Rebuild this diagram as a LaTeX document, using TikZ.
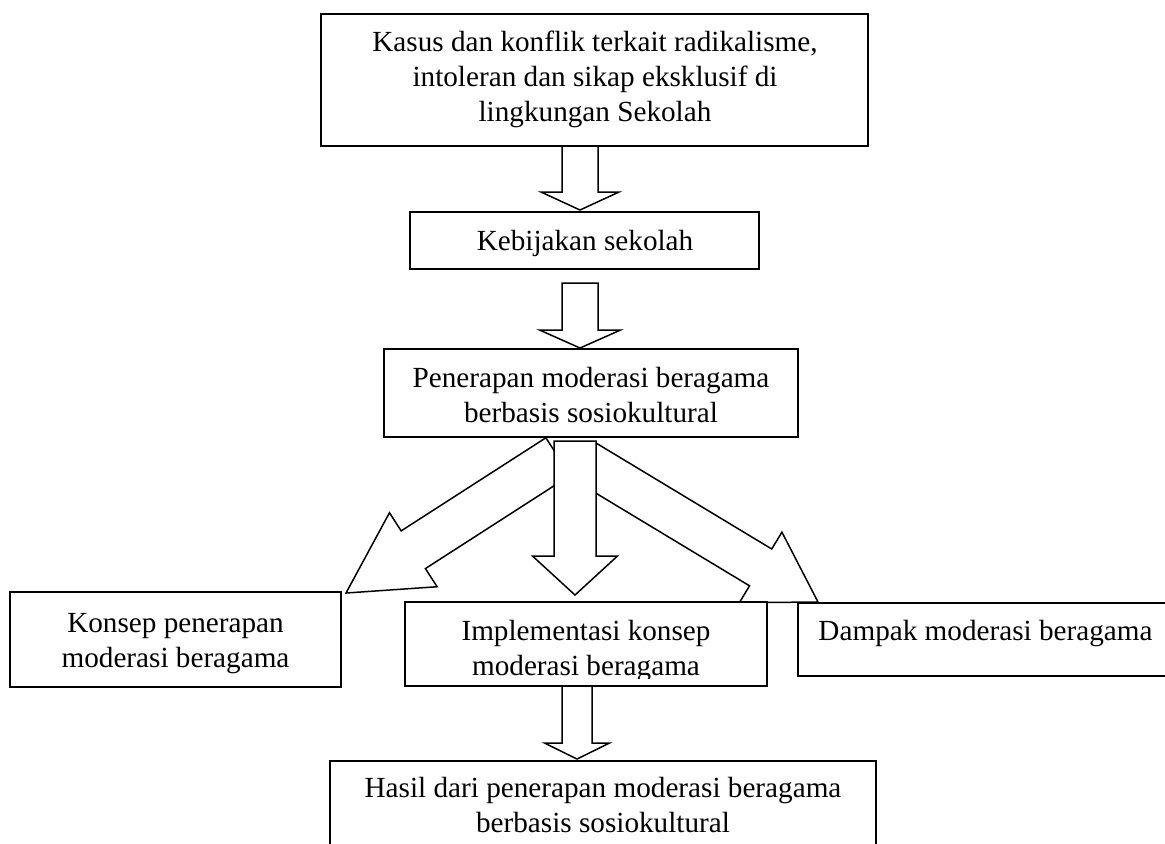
\documentclass[tikz,border=0pt]{standalone}
\usepackage{fontspec}
\setmainfont{Liberation Serif}
\usetikzlibrary{calc}
\newcommand{\blockarrow}[5]{% #1 tail, #2 tip, #3 shaft half width, #4 head half width, #5 head length
  \coordinate (hb) at ($(#2)!#5!(#1)$);
  \draw[blk] ($(#1)!#3!90:(#2)$) -- ($(hb)!#3!90:(#2)$) -- ($(hb)!#4!90:(#2)$) -- (#2)
    -- ($(hb)!#4!-90:(#2)$) -- ($(hb)!#3!-90:(#2)$) -- ($(#1)!#3!-90:(#2)$) -- cycle;
}
\tikzset{
  box/.style={draw, line width=0.9pt, fill=white, inner sep=0pt, outer sep=0pt},
  txt/.style={anchor=base, inner sep=0pt, font=\fontsize{14.6}{17.5}\selectfont},
  blk/.style={draw, line width=0.75pt, fill=white, line join=miter},
}
\begin{document}
\begin{tikzpicture}[x=0.5pt,y=-0.5pt]
\useasboundingbox (0,0) rectangle (1165,843);
\clip (0,0) rectangle (1165,843);

% boxes
\node[box, minimum width=273.5pt, minimum height=66pt] (top) at (594.5,80) {};
\node[box, minimum width=174.5pt, minimum height=28.5pt] (kebijakan) at (584.5,240.5) {};
\node[box, minimum width=165.5pt, minimum height=47.5pt] (konsep) at (175.5,639.5) {};
\node[box, minimum width=273pt, minimum height=54.5pt] (hasil) at (603,815.5) {};

% connector coordinates
\coordinate (a1s) at (580,146);  \coordinate (a1t) at (580,210);
\coordinate (a2s) at (580,283);  \coordinate (a2t) at (580,348);
\coordinate (acs) at (575,441);  \coordinate (act) at (575,595);
\coordinate (als) at (558,456.6); \coordinate (alt) at (346,593);
\coordinate (ars) at (585.4,461.7); \coordinate (art) at (818,602);
\coordinate (abs) at (577,686);  \coordinate (abt) at (577,759);

% diagonal arrows (behind), then the central one
\blockarrow{als}{alt}{11.2pt}{22pt}{40pt}
\blockarrow{ars}{art}{10.75pt}{20.6pt}{33.5pt}
\blockarrow{acs}{act}{10.5pt}{21.25pt}{19.5pt}

\node[box, minimum width=207pt, minimum height=44pt] (penerapan) at (591,393) {};
\node[box, minimum width=181pt, minimum height=42pt] (implementasi) at (586,644) {};
\node[box, minimum width=187.5pt, minimum height=36.5pt] (dampak) at (985.5,639.5) {};

\blockarrow{a1s}{a1t}{9pt}{19.5pt}{9pt}
\blockarrow{a2s}{a2t}{9pt}{20.25pt}{9pt}
\blockarrow{abs}{abt}{7.5pt}{16.25pt}{8pt}

% texts
\node[txt] (t1) at (595,51) {Kasus dan konflik terkait radikalisme,};
\node[txt] (t2) at (595,86) {intoleran dan sikap eksklusif di};
\node[txt] (t3) at (595,121) {lingkungan Sekolah};
\node[txt] (t4) at (585,250) {Kebijakan sekolah};
\node[txt] (t5) at (591,387) {Penerapan moderasi beragama};
\node[txt] (t6) at (591,422) {berbasis sosiokultural};
\node[txt] (t7) at (175.5,632) {Konsep penerapan};
\node[txt] (t8) at (175.5,667) {moderasi beragama};
\begin{scope}
\clip (405,602) rectangle (767,678);
\node[txt] (t9) at (586,640) {Implementasi konsep};
\node[txt] (t10) at (586,675) {moderasi beragama};
\end{scope}
\node[txt] (t11) at (985.5,640) {Dampak moderasi beragama};
\node[txt] (t12) at (603,797) {Hasil dari penerapan moderasi beragama};
\node[txt] (t13) at (603,832) {berbasis sosiokultural};
\end{tikzpicture}
\end{document}
